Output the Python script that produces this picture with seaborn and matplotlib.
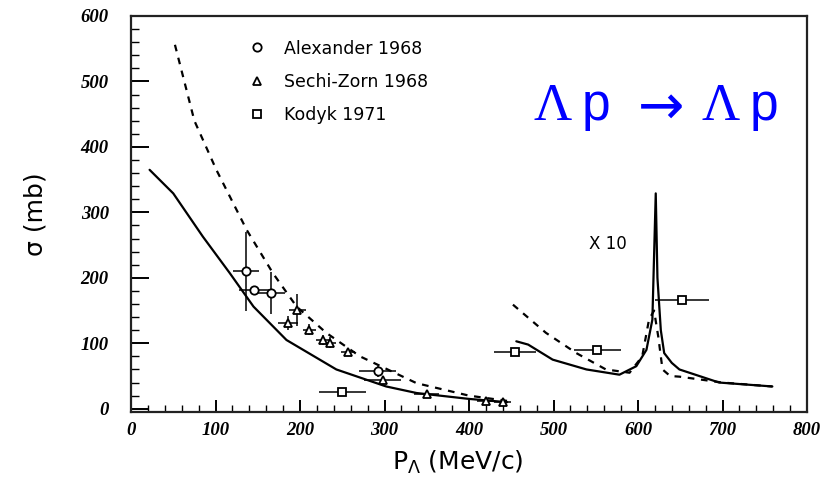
import matplotlib
matplotlib.use("Agg")
import matplotlib.pyplot as plt
import seaborn as sns
import pandas as pd
from matplotlib.lines import Line2D
from matplotlib.ticker import MultipleLocator

# ---------------- data (plotted values; right part is x10) ----------------
solid1_x = [22, 50, 85, 117, 145, 184, 243, 302, 338, 400, 445]
solid1_y = [365, 329, 263, 207, 156, 105, 60, 34, 24, 15, 10]

dashed1_x = [52, 75, 101, 137, 168, 196, 231, 271, 338, 400, 445]
dashed1_y = [556, 440, 365, 273, 207, 156, 116, 80, 39, 20, 12]

solid2_x = [456, 470, 499, 539, 578, 598, 610, 617, 621, 623, 627, 631, 640, 649, 696, 759]
solid2_y = [103, 98, 75, 60, 52, 65, 90, 136, 329, 200, 120, 85, 70, 60, 40, 34]

dashed2_x = [452, 491, 527, 562, 590, 605, 613, 619, 624, 629, 638, 649, 700, 759]
dashed2_y = [159, 116, 85, 60, 55, 80, 136, 150, 110, 60, 50, 49, 40, 34]

alex_x = [136, 146, 166, 292]
alex_y = [210, 182, 177, 57]
alex_xerr = [15, 18, 16, 22]
alex_yerr = [60, 0, 32, 8]

sechi_x = [186, 197, 211, 227, 235, 257, 298, 350, 420, 440]
sechi_y = [131, 151, 121, 105, 101, 86, 44, 22, 12, 10]
sechi_xerr = [12, 10, 8, 8, 8, 8, 22, 15, 10, 10]
sechi_yerr = [10, 25, 8, 8, 8, 6, 6, 5, 4, 4]

kodyk_x = [250, 454, 552, 652]
kodyk_y = [25, 87, 89, 166]
kodyk_xerr = [28, 25, 28, 32]
kodyk_yerr = [0, 0, 0, 0]

legend_labels = ["Alexander 1968", "Sechi-Zorn 1968", "Kodyk 1971"]
x_ticks = [0, 100, 200, 300, 400, 500, 600, 700, 800]
y_ticks = [0, 100, 200, 300, 400, 500, 600]

# ---------------- figure ----------------
sns.set_theme(style="white")
plt.rcParams["font.family"] = ["DejaVu Sans"]
for k in ["text.color", "axes.labelcolor", "xtick.color", "ytick.color"]:
    plt.rcParams[k] = "black"

W, H = 826, 479
fig = plt.figure(figsize=(W / 100, H / 100), dpi=100)
ax = fig.add_axes([131 / W, 1 - 412 / H, 676 / W, 396 / H])

def curve(xs, ys, dashed):
    df = pd.DataFrame({"x": xs, "y": ys})
    sns.lineplot(data=df, x="x", y="y", ax=ax, color="black", lw=1.6,
                 linestyle=(0, (3, 3)) if dashed else "-", sort=False,
                 estimator=None)

curve(solid1_x, solid1_y, False)
curve(dashed1_x, dashed1_y, True)
curve(solid2_x, solid2_y, False)
curve(dashed2_x, dashed2_y, True)

common = dict(ls="none", color="black", mfc="white", mec="black", ms=6,
              mew=1.3, elinewidth=1.1, capsize=0)
ax.errorbar(alex_x, alex_y, xerr=alex_xerr, yerr=alex_yerr, marker="o", **common)
ax.errorbar(sechi_x, sechi_y, xerr=sechi_xerr, yerr=sechi_yerr, marker="^", **common)
ax.errorbar(kodyk_x, kodyk_y, xerr=kodyk_xerr, yerr=kodyk_yerr, marker="s", **common)

ax.set_xlim(0, 800)
ax.set_ylim(-5, 600)
ax.set_xticks(x_ticks)
ax.set_yticks(y_ticks)
ax.xaxis.set_minor_locator(MultipleLocator(20))
ax.yaxis.set_minor_locator(MultipleLocator(20))
ax.tick_params(axis="x", which="major", direction="in", length=9, width=1.4,
               pad=7, bottom=True, top=False)
ax.tick_params(axis="x", which="minor", direction="in", length=5, width=1.0,
               bottom=True, top=False)
ax.tick_params(axis="y", which="major", direction="in", length=13, width=1.4,
               pad=16, left=True, right=False)
ax.tick_params(axis="y", which="minor", direction="in", length=6, width=1.0,
               left=True, right=False)
for lab in ax.get_xticklabels() + ax.get_yticklabels():
    lab.set_fontfamily("Liberation Serif")
    lab.set_fontstyle("italic")
    lab.set_fontweight("bold")
    lab.set_fontsize(13.5)

for sp in ax.spines.values():
    sp.set_color("#222222")
    sp.set_linewidth(1.6)

ax.set_xlabel(r"P$_{\Lambda}$ (MeV/c)", fontsize=18)
ax.set_ylabel("σ (mb)", fontsize=18)
ax.xaxis.set_label_coords(0.484, -0.092)
ax.yaxis.set_label_coords(-0.124, 0.5)

handles = [Line2D([], [], ls="none", marker=m, mfc="white", mec="black",
                  ms=6, mew=1.3) for m in ["o", "^", "s"]]
ax.legend(handles, legend_labels, loc="upper left",
          bbox_to_anchor=(0.15, 0.98), frameon=False, fontsize=12.5,
          handlelength=1.0, handletextpad=1.1, labelspacing=0.88)

ax.text(0.705, 0.425, "X 10", transform=ax.transAxes, fontsize=12,
        ha="center", va="center")

# blue reaction label: serif Lambda, sans p, thin arrow
base_y = 1 - 120 / H
blue = "#0000ff"
fig.text(534 / W, base_y, "Λ", family="Liberation Serif", fontsize=38,
         color=blue, ha="left", va="baseline")
fig.text(582 / W, base_y, "p", family="Liberation Sans", fontsize=37,
         color=blue, ha="left", va="baseline")
fig.text(655 / W, 1 - 108 / H, r"$\rightarrow$", fontsize=40,
         color=blue, ha="center", va="center")
fig.text(702 / W, base_y, "Λ", family="Liberation Serif", fontsize=38,
         color=blue, ha="left", va="baseline")
fig.text(750 / W, base_y, "p", family="Liberation Sans", fontsize=37,
         color=blue, ha="left", va="baseline")

fig.savefig("out.png", dpi=100)
